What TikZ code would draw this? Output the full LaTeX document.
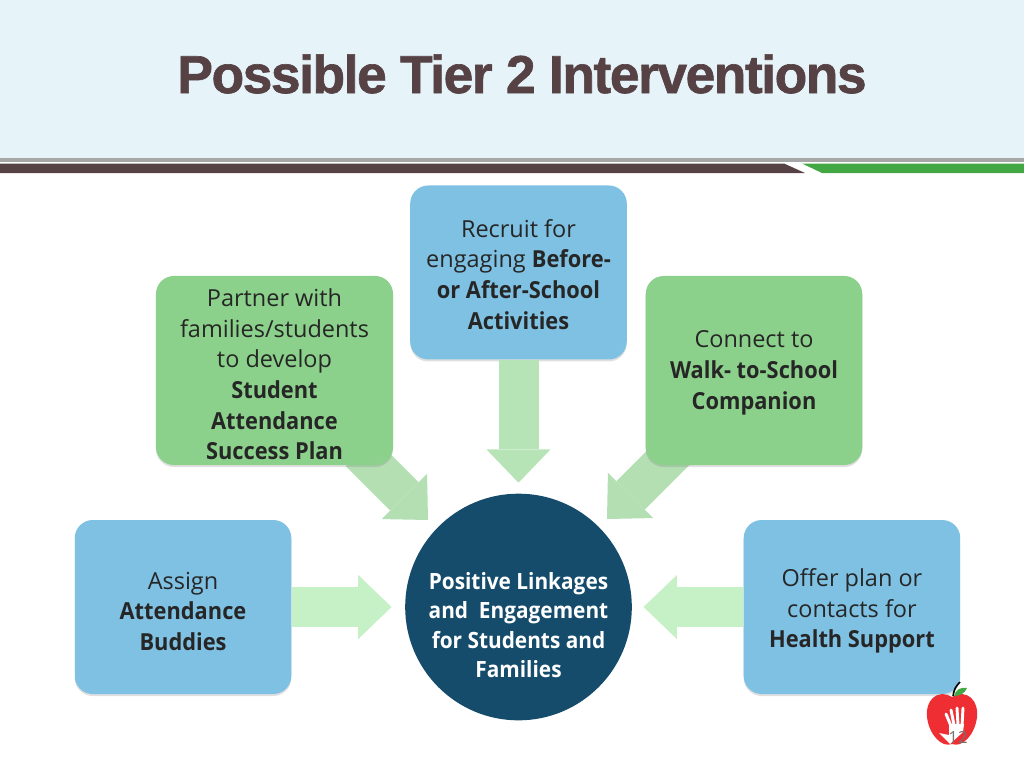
\documentclass[tikz,border=0pt]{standalone}
\usepackage{fontspec}
\setmainfont{Open Sans}[BoldFeatures={FakeStretch=0.93}]
\newfontfamily\titlefont[FakeBold=1.2,LetterSpace=-2.7]{Liberation Sans}
\usetikzlibrary{arrows.meta,backgrounds,shadows}
\definecolor{headbg}{HTML}{E6F3F8}
\definecolor{barbrown}{HTML}{564145}
\definecolor{bargreen}{HTML}{43A843}
\definecolor{boxblue}{HTML}{7FC1E3}
\definecolor{boxgreen}{HTML}{8BD18B}
\definecolor{hubblue}{HTML}{154C6C}
\definecolor{arrowdown}{HTML}{B7E4B7}
\definecolor{arrowside}{HTML}{C6F0C6}
\definecolor{arrowdiag}{HTML}{B3DFB3}
\definecolor{applered}{HTML}{EE2E33}
\newcommand{\lift}[1]{\rule{0pt}{#1}}
\tikzset{
  box/.style={rectangle, rounded corners=13.5pt, minimum width=162.4pt, align=center,
    font=\fontsize{17.6}{23}\selectfont, text=black!85,
    drop shadow={shadow xshift=0pt, shadow yshift=-1.5pt, opacity=.25}},
  bluebox/.style={box, fill=boxblue, minimum height=130.5pt},
  greenbox/.style={box, fill=boxgreen},
  fatarrow/.style={-{Triangle[width=48pt,length=25pt,line width=0pt]}, line width=30pt}
}
\begin{document}
\begin{tikzpicture}[x=0.75pt,y=-0.75pt]
  \useasboundingbox (0,0) rectangle (1024,768);

  \node (hub) [circle, fill=hubblue, minimum size=170pt] at (518.5,607) {};
  \node (hubtext) [below of=hub, node distance=13.5pt, align=center, text=white,
    font=\fontsize{16.8}{22}\selectfont\bfseries]
    {Positive Linkages\\and\ \ Engagement\\for Students and\\Families};

  \node (top)    [bluebox, above of=hub, node distance=250.9pt] {\lift{16.4pt}Recruit for\\engaging \textbf{Before-}\\\textbf{or After-School}\\\textbf{Activities}};
  \node (assign) [bluebox, left of=hub,  node distance=251.6pt] {\lift{19.4pt}Assign\\\textbf{Attendance}\\\textbf{Buddies}};
  \node (offer)  [bluebox, right of=hub, node distance=250.1pt] {\lift{19.4pt}Offer plan or\\contacts for\\\textbf{Health Support}};
  \node (partner) [greenbox, minimum width=177.8pt, minimum height=141.8pt] at (274.5,370.5)
    {\lift{19.4pt}Partner with\\families/students\\to develop\\\textbf{Student}\\\textbf{Attendance}\\\textbf{Success Plan}};
  \node (walk)    [greenbox, minimum height=141.8pt] at (754,370.5)
    {\lift{16.4pt}Connect to\\\textbf{Walk- to-School}\\\textbf{Companion}};

  \node (title) [font=\titlefont\fontsize{40}{40}\selectfont\bfseries, text=barbrown, anchor=base] at (522,93)
    {Possible Tier 2 Interventions};

  \coordinate (partnerfoot) at (360,452);
  \coordinate (walkfoot)    at (680,446);
  \coordinate (hubnw)       at (428,520);
  \coordinate (hubne)       at (607,519);

  \begin{scope}[on background layer]
    \fill [headbg] (0,0) rectangle (1024,158);
    \fill [black!35] (0,158) rectangle (1024,161.5);
    \fill [barbrown] (0,163.5) -- (784,163.5) -- (805,173) -- (0,173) -- cycle;
    \fill [bargreen] (802,163.5) -- (1024,163.5) -- (1024,173) -- (822,173) -- cycle;

    \draw [fatarrow, arrowdiag] (partnerfoot) -- (hubnw);
    \draw [fatarrow, arrowdiag] (walkfoot) -- (hubne);
  \end{scope}

  \draw [fatarrow, arrowdown, shorten >=8pt] (top.south) -- (hub.north);
  \draw [fatarrow, arrowside, shorten >=10pt] (assign.east) -- (hub.west);
  \draw [fatarrow, arrowside, shorten >=8.6pt] (offer.west) -- (hub.east);

  % apple in the corner
  \fill [applered] (952,697) .. controls (968,688) and (979,702) .. (977,717)
    .. controls (975,735) and (962,748) .. (952,744)
    .. controls (942,748) and (929,735) .. (927,717)
    .. controls (925,702) and (936,688) .. (952,697) -- cycle;
  \draw [black, line width=1.2pt] (953,696) .. controls (954,689) and (956,686) .. (960,682);
  \fill [bargreen] (954,696) .. controls (956,689) and (961,687) .. (967,688)
    .. controls (965,693) and (960,696) .. (954,696) -- cycle;
  \draw [white, line width=2.2pt, line cap=round] (951,726) -- (946,714);
  \draw [white, line width=2.2pt, line cap=round] (954,725) -- (951,710);
  \draw [white, line width=2.2pt, line cap=round] (958,725) -- (957,708);
  \draw [white, line width=2.2pt, line cap=round] (962,726) -- (963,708);
  \fill [white] (949,724) -- (964,724) -- (963,732) -- (950,744) -- (946,740) -- (939,733) -- (949,735) -- cycle;
  \node (page) [font=\fontsize{12.5}{13}\selectfont, text=black!55, inner sep=0pt] at (958,737) {12};
\end{tikzpicture}
\end{document}
